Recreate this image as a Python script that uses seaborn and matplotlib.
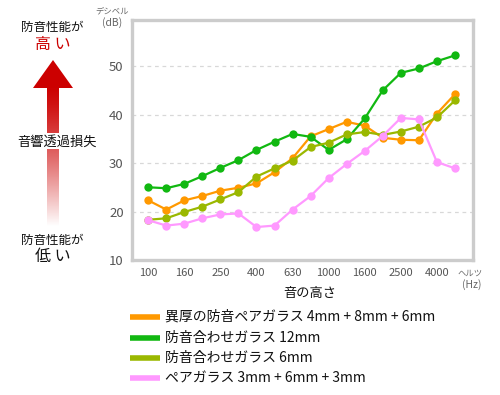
import numpy as np
import pandas as pd
import matplotlib
matplotlib.use("Agg")
import matplotlib.pyplot as plt
from matplotlib.lines import Line2D
from matplotlib.patches import Polygon
import seaborn as sns

bands = [100, 125, 160, 200, 250, 315, 400, 500, 630, 800, 1000, 1250,
         1600, 2000, 2500, 3150, 4000, 5000]
tick_labels = ["100", "", "160", "", "250", "", "400", "", "630", "", "1000", "",
               "1600", "", "2500", "", "4000", ""]
series_names = ["異厚の防音ペアガラス 4mm + 8mm + 6mm",
                "防音合わせガラス 12mm",
                "防音合わせガラス 6mm",
                "ペアガラス 3mm + 6mm + 3mm"]
orange_vals = [22.3, 20.4, 22.3, 23.2, 24.3, 24.9, 25.8, 28.1, 31.0, 35.5,
               37.0, 38.5, 37.7, 35.2, 34.8, 34.7, 40.2, 44.2]
green_vals = [25.0, 24.8, 25.7, 27.3, 29.0, 30.6, 32.7, 34.4, 36.0, 35.4,
              32.7, 34.9, 39.2, 45.0, 48.6, 49.5, 51.0, 52.2]
olive_vals = [18.3, 18.6, 19.9, 21.0, 22.5, 24.0, 27.2, 28.9, 30.5, 33.3,
              34.2, 35.9, 36.4, 35.8, 36.5, 37.5, 39.4, 42.9]
pink_vals = [18.2, 17.1, 17.5, 18.6, 19.4, 19.6, 16.8, 17.1, 20.4, 23.2,
             26.9, 29.8, 32.5, 35.6, 39.3, 39.0, 30.2, 28.9]
colors = ["#ff9900", "#11b811", "#9ab800", "#ff99ff"]
y_ticks = [10, 20, 30, 40, 50]

sns.set_theme(style="white")
plt.rcParams['font.family'] = ['Noto Sans CJK JP', 'DejaVu Sans']

W, H = 500, 395
fig = plt.figure(figsize=(W / 100, H / 100), dpi=100)

def fx(px):
    return px / W

def fy(py):
    return 1 - py / H

rows = []
for name, vals in zip(series_names, [orange_vals, green_vals, olive_vals, pink_vals]):
    for i, v in enumerate(vals):
        rows.append({"band": i, "db": v, "series": name})
df = pd.DataFrame(rows)

ax = fig.add_axes([fx(132), fy(260), fx(473) - fx(132), fy(20) - fy(260)])
sns.lineplot(data=df, x="band", y="db", hue="series", hue_order=series_names,
             palette=colors, marker="o", markersize=6, markeredgewidth=0,
             linewidth=1.6, ax=ax, legend=False, sort=False, zorder=3)

ax.set_xlim(-0.9, 18.0)
ax.set_ylim(10, 59.5)
ax.set_xlabel("")
ax.set_ylabel("")
ax.set_yticks(y_ticks)
ax.set_yticklabels([str(t) for t in y_ticks], color="#555555", fontsize=9.5)
ax.set_xticks(range(len(bands)))
ax.set_xticklabels(tick_labels, color="#555555", fontsize=8)
ax.tick_params(axis="x", direction="in", length=4, width=0.8, color="#cccccc", pad=6)
ax.tick_params(axis="y", length=0, pad=6)
for y in [20, 30, 40, 50]:
    ax.axhline(y, color="#d8d8d8", lw=0.9, ls=(0, (3, 3)), zorder=1)
for s in ax.spines.values():
    s.set_color("#cccccc")
    s.set_linewidth(2.4)
ax.grid(False)

# axis unit labels
fig.text(fx(112), fy(11), "デシベル", ha="center", va="center", fontsize=6, color="#666666")
fig.text(fx(112), fy(23), "(dB)", ha="center", va="center", fontsize=7.5, color="#666666")
fig.text(fx(470), fy(273), "ヘルツ", ha="center", va="center", fontsize=6, color="#666666")
fig.text(fx(472), fy(285), "(Hz)", ha="center", va="center", fontsize=7.5, color="#666666")
fig.text(fx(310), fy(294), "音の高さ", ha="center", va="center", fontsize=9.5, color="#111111")

# legend
leg_y = [317, 338, 358, 378]
for name, c, yy in zip(series_names, colors, leg_y):
    fig.add_artist(Line2D([fx(130), fx(160)], [fy(yy), fy(yy)], color=c, lw=4,
                          transform=fig.transFigure, solid_capstyle="butt"))
    fig.text(fx(165), fy(yy), name, ha="left", va="center", fontsize=10, color="#111111")

# left panel with arrow
lax = fig.add_axes([0, 0, fx(130), 1])
lax.set_xlim(0, 130)
lax.set_ylim(H, 0)
lax.axis("off")
grad = np.zeros((200, 1, 4))
t = np.linspace(0, 1, 200)
alpha = np.clip(1.0 - t ** 1.3 * 1.05, 0, 1)
grad[:, 0, 0] = 0.8
grad[:, 0, 1] = 0.0
grad[:, 0, 2] = 0.0
grad[:, 0, 3] = alpha
lax.imshow(grad, extent=(47, 59, 232, 86), aspect="auto", interpolation="bilinear", zorder=1)
lax.add_patch(Polygon([(33, 88), (53, 60), (73, 88)], closed=True, color="#cc0000", lw=0, zorder=2))
lax.add_patch(plt.Rectangle((10, 133), 100, 16, color="white", lw=0, zorder=3))
lax.set_xlim(0, 130)
lax.set_ylim(H, 0)

lax.text(52, 27, "防音性能が", ha="center", va="center", fontsize=9, color="#111111")
lax.text(53, 45, "高 い", ha="center", va="center", fontsize=11.5, color="#cc0000")
lax.text(57, 142, "音響透過損失", ha="center", va="center", fontsize=9.5, color="#111111", zorder=4)
lax.text(52, 240, "防音性能が", ha="center", va="center", fontsize=9, color="#111111")
lax.text(53, 257, "低 い", ha="center", va="center", fontsize=11.5, color="#111111")

fig.savefig("out.png", dpi=100)
